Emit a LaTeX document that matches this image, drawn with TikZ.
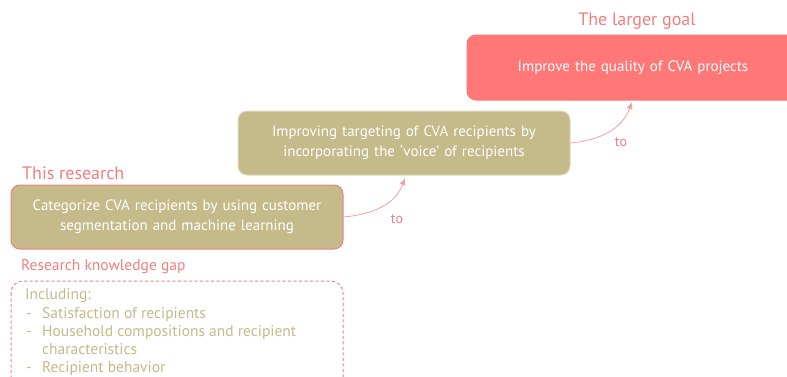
\documentclass[tikz,border=0pt]{standalone}
\usepackage{fontspec}
\setmainfont{PT Sans}
\usetikzlibrary{arrows.meta}
\definecolor{olivebox}{HTML}{C4BA8A}
\definecolor{goalred}{HTML}{FF7777}
\definecolor{salmon}{HTML}{F08080}
\colorlet{arrowpink}{salmon!75!white}
\colorlet{stepline}{olivebox!55!white}
\tikzstyle{stepbox} = [
    rectangle,
    rounded corners=9pt,
    line width=1pt,
    minimum width=332pt,
    minimum height=64pt,
    text width=320pt,
    align=center,
    text=white,
    font=\fontsize{15}{20}\selectfont
    ]
\tikzstyle{heading} = [
    text=salmon,
    font=\fontsize{18}{21}\selectfont,
    inner sep=0pt
    ]
\tikzstyle{link} = [
    draw=arrowpink,
    line width=0.8pt,
    -{Latex[length=7pt,width=6pt]}
    ]
\tikzstyle{tolabel} = [
    text=salmon,
    font=\fontsize{14}{16}\selectfont
    ]

\begin{document}
\begin{tikzpicture}[x=1pt,y=-1pt]
\fill[white] (0,0) rectangle (787,376);
\useasboundingbox (0,0) rectangle (787,376);
\clip (0,0) rectangle (787,376);

% the three steps
\node[stepbox, fill=olivebox, draw=salmon] (research) at (177,217)
    {Categorize CVA recipients by using customer\\segmentation and machine learning};
\node[stepbox, fill=olivebox, draw=stepline] (targeting) at (404,143)
    {Improving targeting of CVA recipients by\\incorporating the `voice' of recipients};
\node[stepbox, fill=goalred, draw=goalred, minimum height=65pt] (goal) at (633,67.5)
    {Improve the quality of CVA projects};

% titles above the boxes
\node[heading, anchor=base west] (researchtitle) at (22,179) {This research};
\node[heading, anchor=base] (goaltitle) at (637,25) {The larger goal};
\node[heading, anchor=base west, font=\fontsize{15.5}{18}\selectfont] (gaptitle) at (21,270)
    {Research knowledge gap};

% knowledge gap box
\draw[salmon, line width=1pt, dash pattern=on 3pt off 2.5pt, rounded corners=12pt]
    (11,281) rectangle (343,400);
\node[anchor=north west, inner sep=0pt, text=olivebox,
      font=\fontsize{15.5}{18.2}\selectfont] (gaplist) at (25,287) {%
    \begin{tabular}{@{}p{17pt}@{}l@{}}
    \multicolumn{2}{@{}l@{}}{Including:}\\
    \hspace{1pt}- & Satisfaction of recipients\\
    \hspace{1pt}- & Household compositions and recipient\\
                  & characteristics\\
    \hspace{1pt}- & Recipient behavior
    \end{tabular}};

% arrows between the steps
\coordinate (tiptargeting) at (405,178);
\coordinate (tipgoal) at (632,102);
\draw[link] (research.east) to[out=5,in=-110] (tiptargeting);
\draw[link] (targeting.east) to[out=5,in=-110] (tipgoal);
\node[tolabel] (tofirst) at (397,219) {to};
\node[tolabel] (tosecond) at (621,142) {to};
\end{tikzpicture}
\end{document}
